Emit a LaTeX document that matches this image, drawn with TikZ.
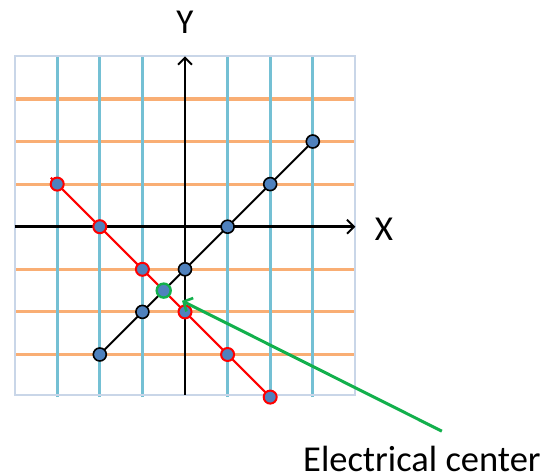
\documentclass[tikz,border=0pt]{standalone}
\usepackage{fontspec}
\setmainfont{Carlito}
\usetikzlibrary{arrows.meta}
\definecolor{gridblue}{HTML}{74C0D4}
\definecolor{gridorange}{HTML}{F9AE74}
\definecolor{boxgray}{HTML}{C9D6E8}
\definecolor{dotblue}{HTML}{4F81BD}
\definecolor{ecgreen}{HTML}{12B04C}
\tikzset{
  hline/.style={gridorange, line width=3.2pt},
  vline/.style={gridblue, line width=3.2pt},
  axisline/.style={black, line width=2.4pt, -{Straight Barb[length=7pt,width=14pt,line width=2pt]}},
  blackdot/.style={circle, fill=dotblue, draw=black, line width=1.6pt, minimum size=13pt, inner sep=0pt},
  reddot/.style={circle, fill=dotblue, draw=red, line width=2pt, minimum size=13pt, inner sep=0pt},
  greendot/.style={circle, fill=dotblue, draw=ecgreen, line width=2.4pt, minimum size=14pt, inner sep=0pt},
  lbl/.style={font=\fontsize{35}{40}\selectfont, inner sep=0pt}
}
\begin{document}
\begin{tikzpicture}[x=42.6pt,y=42.6pt]
\useasboundingbox (-4.343,-5.852) rectangle (8.545,5.322);
% grid
\foreach \k in {-3,-2,-1,1,2,3} \draw[hline] (-4,\k) -- (4,\k);
\foreach \k in {-3,-2,-1,1,2,3} \draw[vline] (\k,-4) -- (\k,4);
\draw[boxgray, line width=1.8pt] (-4,-3.95) rectangle (4,4);
% axes
\coordinate (xs) at (-4,0);
\coordinate (xe) at (4,0);
\coordinate (ys) at (0,-3.95);
\coordinate (ye) at (0,4);
\draw[axisline] (xs) -- (xe);
\draw[axisline] (ys) -- (ye);
\node[lbl] (ylab) at (0,4.8) {Y};
\node[lbl] (xlab) at (4.67,-0.06) {X};
% black line y = x - 1
\foreach \i/\x in {1/-2,2/-1,3/0,4/1,5/2,6/3} \coordinate (b\i) at (\x,\x-1);
\draw[black, line width=2pt] (b1) -- (b6);
% red line y = -x - 2
\foreach \i/\x in {1/-3,2/-2,3/-1,4/0,5/1,6/2} \coordinate (r\i) at (\x,-\x-2);
\coordinate (r0) at (-3.15,1.15);
\draw[red, line width=2.2pt] (r0) -- (r6);
\foreach \i in {1,...,6} \node[blackdot] (bd\i) at (b\i) {};
\foreach \i in {1,...,6} \node[reddot] (rd\i) at (r\i) {};
\node[greendot] (ec) at (-0.5,-1.5) {};
% label and arrow
\node[lbl, font=\fontsize{36.5}{40}\selectfont, anchor=base west] (eclab) at (2.77,-5.74) {Electrical center};
\coordinate (as) at (6.03,-4.8);
\coordinate (ae) at (-0.07,-1.74);
\draw[ecgreen, line width=3pt, -{Straight Barb[length=7pt,width=15pt,line width=2.6pt]}] (as) -- (ae);
\end{tikzpicture}
\end{document}
